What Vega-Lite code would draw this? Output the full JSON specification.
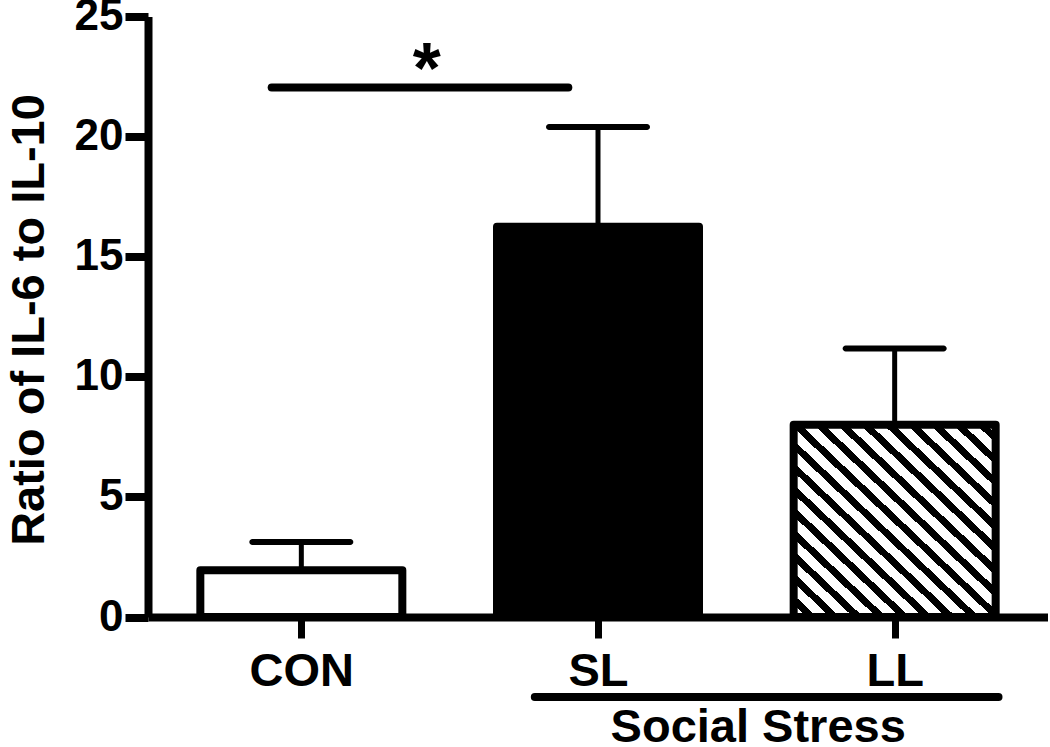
{
  "$schema": "https://vega.github.io/schema/vega-lite/v6.json",
  "width": 900,
  "height": 600.5,
  "autosize": {"type": "none"},
  "padding": {"left": 148, "top": 16.5, "right": 0, "bottom": 130},
  "background": "white",
  "config": {
    "view": {"stroke": null},
    "font": "Liberation Sans"
  },
  "datasets": {
    "bars": [
      {"group": "CON", "pos": 0, "mean": 1.95, "upper": 3.12},
      {"group": "SL", "pos": 1, "mean": 16.25, "upper": 20.4},
      {"group": "LL", "pos": 2, "mean": 8.0, "upper": 11.18}
    ],
    "sig": [{"x": -0.1, "x2": 0.9, "y": 22.04}],
    "star": [{"x": 0.423, "y": 21.8, "label": "*"}],
    "stressLine": [{"x": 0.787, "x2": 2.35, "y": -3.33}],
    "stressText": [{"x": 1.54, "y": -5.2, "label": "Social Stress"}]
  },
  "layer": [
    {
      "data": {"name": "bars"},
      "transform": [{"filter": "datum.group !== 'LL'"}],
      "mark": {"type": "bar", "orient": "vertical", "width": 202, "stroke": "black", "strokeWidth": 8, "strokeJoin": "round"},
      "encoding": {
        "x": {
          "field": "pos", "type": "quantitative", "title": null,
          "scale": {"domain": [-0.5, 2.5], "nice": false, "zero": false},
          "axis": {
            "values": [0, 1, 2],
            "labelExpr": "['CON','SL','LL'][datum.value]",
            "grid": false,
            "domainColor": "black", "domainWidth": 8,
            "tickColor": "black", "tickWidth": 7, "tickSize": 21,
            "labelFont": "Liberation Sans", "labelFontWeight": "bold", "labelFontSize": 47,
            "labelColor": "black", "labelPadding": 10, "labelFlush": false, "labelOverlap": false
          }
        },
        "y": {
          "field": "mean", "type": "quantitative", "title": "Ratio of IL-6 to IL-10",
          "scale": {"domain": [0, 25], "nice": false, "zero": true},
          "axis": {
            "values": [0, 5, 10, 15, 20, 25],
            "grid": false,
            "domainColor": "black", "domainWidth": 8,
            "tickColor": "black", "tickWidth": 8, "tickSize": 23,
            "labelFont": "Liberation Sans", "labelFontWeight": "bold", "labelFontSize": 44,
            "labelColor": "black", "labelPadding": 2, "labelFlush": false, "labelOverlap": false,
            "titleFont": "Liberation Sans", "titleFontWeight": "bold", "titleFontSize": 47,
            "titleColor": "black", "titleBaseline": "alphabetic", "titleAngle": 270,
            "titleX": -105, "titleY": 303, "titleAlign": "center"
          }
        },
        "fill": {
          "field": "group", "type": "nominal",
          "scale": {"domain": ["CON", "SL"], "range": ["white", "black"]},
          "legend": null
        }
      }
    },
    {
      "data": {"name": "bars"},
      "transform": [{"filter": "datum.group === 'LL'"}],
      "mark": {
        "type": "bar", "orient": "vertical", "width": 202, "stroke": "black", "strokeWidth": 8, "strokeJoin": "round",
        "fill": {
          "gradient": "linear", "x1": 0, "y1": 1, "x2": 1, "y2": 0,
          "stops": [
            {"offset": 0, "color": "white"}, {"offset": 0.0325, "color": "white"}, {"offset": 0.0325, "color": "black"}, {"offset": 0.0575, "color": "black"},
            {"offset": 0.0575, "color": "white"}, {"offset": 0.09, "color": "white"}, {"offset": 0.09, "color": "black"}, {"offset": 0.115, "color": "black"},
            {"offset": 0.115, "color": "white"}, {"offset": 0.1475, "color": "white"}, {"offset": 0.1475, "color": "black"}, {"offset": 0.1725, "color": "black"},
            {"offset": 0.1725, "color": "white"}, {"offset": 0.205, "color": "white"}, {"offset": 0.205, "color": "black"}, {"offset": 0.23, "color": "black"},
            {"offset": 0.23, "color": "white"}, {"offset": 0.2625, "color": "white"}, {"offset": 0.2625, "color": "black"}, {"offset": 0.2875, "color": "black"},
            {"offset": 0.2875, "color": "white"}, {"offset": 0.32, "color": "white"}, {"offset": 0.32, "color": "black"}, {"offset": 0.345, "color": "black"},
            {"offset": 0.345, "color": "white"}, {"offset": 0.3775, "color": "white"}, {"offset": 0.3775, "color": "black"}, {"offset": 0.4025, "color": "black"},
            {"offset": 0.4025, "color": "white"}, {"offset": 0.435, "color": "white"}, {"offset": 0.435, "color": "black"}, {"offset": 0.46, "color": "black"},
            {"offset": 0.46, "color": "white"}, {"offset": 0.4925, "color": "white"}, {"offset": 0.4925, "color": "black"}, {"offset": 0.5175, "color": "black"},
            {"offset": 0.5175, "color": "white"}, {"offset": 0.55, "color": "white"}, {"offset": 0.55, "color": "black"}, {"offset": 0.575, "color": "black"},
            {"offset": 0.575, "color": "white"}, {"offset": 0.6075, "color": "white"}, {"offset": 0.6075, "color": "black"}, {"offset": 0.6325, "color": "black"},
            {"offset": 0.6325, "color": "white"}, {"offset": 0.665, "color": "white"}, {"offset": 0.665, "color": "black"}, {"offset": 0.69, "color": "black"},
            {"offset": 0.69, "color": "white"}, {"offset": 0.7225, "color": "white"}, {"offset": 0.7225, "color": "black"}, {"offset": 0.7475, "color": "black"},
            {"offset": 0.7475, "color": "white"}, {"offset": 0.78, "color": "white"}, {"offset": 0.78, "color": "black"}, {"offset": 0.805, "color": "black"},
            {"offset": 0.805, "color": "white"}, {"offset": 0.8375, "color": "white"}, {"offset": 0.8375, "color": "black"}, {"offset": 0.8625, "color": "black"},
            {"offset": 0.8625, "color": "white"}, {"offset": 0.895, "color": "white"}, {"offset": 0.895, "color": "black"}, {"offset": 0.92, "color": "black"},
            {"offset": 0.92, "color": "white"}, {"offset": 0.9525, "color": "white"}, {"offset": 0.9525, "color": "black"}, {"offset": 0.9775, "color": "black"},
            {"offset": 0.9775, "color": "white"}, {"offset": 1, "color": "white"}
          ]
        }
      },
      "encoding": {
        "x": {"field": "pos", "type": "quantitative", "title": null},
        "y": {"field": "mean", "type": "quantitative", "title": "Ratio of IL-6 to IL-10"}
      }
    },
    {
      "data": {"name": "bars"},
      "mark": {"type": "rule", "color": "black", "strokeWidth": 5},
      "encoding": {
        "x": {"field": "pos", "type": "quantitative", "title": null},
        "y": {"field": "mean", "type": "quantitative", "title": "Ratio of IL-6 to IL-10"},
        "y2": {"field": "upper"}
      }
    },
    {
      "data": {"name": "bars"},
      "mark": {"type": "tick", "orient": "horizontal", "color": "black", "size": 104, "thickness": 6, "cornerRadius": 3, "opacity": 1},
      "encoding": {
        "x": {"field": "pos", "type": "quantitative", "title": null},
        "y": {"field": "upper", "type": "quantitative", "title": "Ratio of IL-6 to IL-10"}
      }
    },
    {
      "data": {"name": "sig"},
      "mark": {"type": "rule", "color": "black", "strokeWidth": 8, "strokeCap": "round"},
      "encoding": {
        "x": {"field": "x", "type": "quantitative", "title": null},
        "x2": {"field": "x2"},
        "y": {"field": "y", "type": "quantitative", "title": "Ratio of IL-6 to IL-10"}
      }
    },
    {
      "data": {"name": "star"},
      "mark": {"type": "text", "font": "Liberation Sans", "fontWeight": "bold", "fontSize": 72, "align": "center", "baseline": "alphabetic", "color": "black"},
      "encoding": {
        "x": {"field": "x", "type": "quantitative", "title": null},
        "y": {"field": "y", "type": "quantitative", "title": "Ratio of IL-6 to IL-10"},
        "text": {"field": "label"}
      }
    },
    {
      "data": {"name": "stressLine"},
      "mark": {"type": "rule", "color": "black", "strokeWidth": 8, "strokeCap": "round"},
      "encoding": {
        "x": {"field": "x", "type": "quantitative", "title": null},
        "x2": {"field": "x2"},
        "y": {"field": "y", "type": "quantitative", "title": "Ratio of IL-6 to IL-10"}
      }
    },
    {
      "data": {"name": "stressText"},
      "mark": {"type": "text", "font": "Liberation Sans", "fontWeight": "bold", "fontSize": 47, "align": "center", "baseline": "alphabetic", "color": "black"},
      "encoding": {
        "x": {"field": "x", "type": "quantitative", "title": null},
        "y": {"field": "y", "type": "quantitative", "title": "Ratio of IL-6 to IL-10"},
        "text": {"field": "label"}
      }
    }
  ]
}
